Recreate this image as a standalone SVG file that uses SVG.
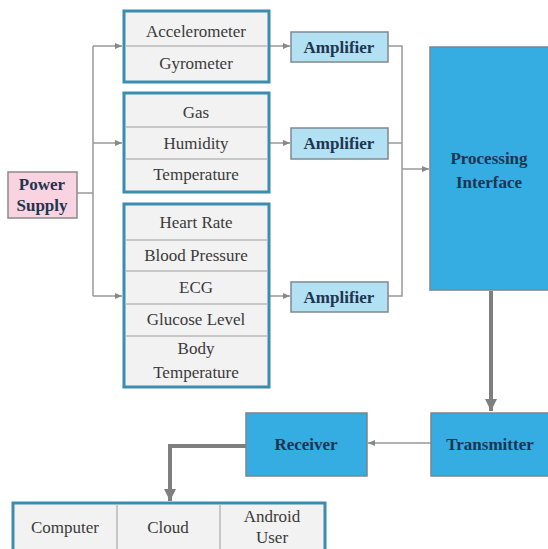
<svg xmlns="http://www.w3.org/2000/svg" width="548" height="549" viewBox="0 0 548 549">
<style>
text{font-size:17px;fill:#3a3a3a;text-anchor:middle}
.b{font-weight:bold;fill:#1e3550}
.grp{fill:#f2f2f2;stroke:#3b8db0;stroke-width:3}
.div{stroke:#b8b8b8;stroke-width:1.5}
.amp{fill:#b3e1f4;stroke:#808890;stroke-width:1.5}
.blue{fill:#35ace2;stroke:#7a8590;stroke-width:1.5}
.ln{fill:none;stroke:#999;stroke-width:1.5}
.thk{fill:none;stroke:#7f7f7f;stroke-width:4}
</style>
<defs>
<marker id="a" markerWidth="8" markerHeight="8" refX="7" refY="4" orient="auto" markerUnits="userSpaceOnUse"><path d="M0,1 L7,4 L0,7 Z" fill="#888"/></marker>
<marker id="A" markerWidth="14" markerHeight="12" refX="12" refY="6" orient="auto" markerUnits="userSpaceOnUse"><path d="M0,0 L12,6 L0,12 Z" fill="#7f7f7f"/></marker>
</defs>
<rect width="548" height="549" fill="#fff"/>
<g id="connectors">
<path class="ln" d="M77,193 H93"/>
<path class="ln" d="M93,46 V296"/>
<path class="ln" d="M93,46 H122" marker-end="url(#a)"/>
<path class="ln" d="M93,143 H122" marker-end="url(#a)"/>
<path class="ln" d="M93,296 H122" marker-end="url(#a)"/>
<path class="ln" d="M270,46 H290" marker-end="url(#a)"/>
<path class="ln" d="M270,143 H290" marker-end="url(#a)"/>
<path class="ln" d="M270,296 H290" marker-end="url(#a)"/>
<path class="ln" d="M388,46 H402 V296 H388"/>
<path class="ln" d="M388,143 H402"/>
<path class="ln" d="M402,169 H429" marker-end="url(#a)"/>
<path class="thk" d="M491,291 V411" marker-end="url(#A)"/>
<path class="ln" d="M431,443 H368" marker-end="url(#a)"/>
<path class="thk" d="M246,446 H170 V501" marker-end="url(#A)"/>
</g>
<g font-family="Liberation Serif, Times New Roman, serif">
<g id="power">
<rect x="8" y="172" width="69" height="46" fill="#f9d4e0" stroke="#8a8a8a" stroke-width="1.5"/>
<text class="b" x="42" y="190">Power</text>
<text class="b" x="42" y="211">Supply</text>
</g>
<g id="group1">
<rect class="grp" x="124" y="11" width="145" height="71"/>
<line class="div" x1="125" y1="46" x2="268" y2="46"/>
<text x="196" y="37">Accelerometer</text>
<text x="196" y="69">Gyrometer</text>
</g>
<g id="group2">
<rect class="grp" x="124" y="93" width="145" height="99"/>
<line class="div" x1="125" y1="127" x2="268" y2="127"/>
<line class="div" x1="125" y1="159" x2="268" y2="159"/>
<text x="196" y="118">Gas</text>
<text x="196" y="149">Humidity</text>
<text x="196" y="180">Temperature</text>
</g>
<g id="group3">
<rect class="grp" x="124" y="204" width="145" height="183"/>
<line class="div" x1="125" y1="240" x2="268" y2="240"/>
<line class="div" x1="125" y1="271" x2="268" y2="271"/>
<line class="div" x1="125" y1="304" x2="268" y2="304"/>
<line class="div" x1="125" y1="336" x2="268" y2="336"/>
<text x="196" y="228">Heart Rate</text>
<text x="196" y="261">Blood Pressure</text>
<text x="196" y="293">ECG</text>
<text x="196" y="325">Glucose Level</text>
<text x="196" y="354">Body</text>
<text x="196" y="378">Temperature</text>
</g>
<g id="amp1">
<rect class="amp" x="291" y="32" width="97" height="30"/>
<text class="b" x="339" y="53">Amplifier</text>
</g>
<g id="amp2">
<rect class="amp" x="291" y="128" width="97" height="31"/>
<text class="b" x="339" y="149">Amplifier</text>
</g>
<g id="amp3">
<rect class="amp" x="291" y="282" width="97" height="30"/>
<text class="b" x="339" y="303">Amplifier</text>
</g>
<g id="processing">
<rect class="blue" x="430" y="47" width="122" height="243"/>
<text class="b" x="489" y="164">Processing</text>
<text class="b" x="489" y="188">Interface</text>
</g>
<g id="transmitter">
<rect class="blue" x="431" y="413" width="121" height="63"/>
<text class="b" x="490" y="450">Transmitter</text>
</g>
<g id="receiver">
<rect class="blue" x="246" y="413" width="121" height="63"/>
<text class="b" x="306" y="450">Receiver</text>
</g>
<g id="outputs">
<rect class="grp" x="13" y="503" width="312" height="50"/>
<line class="div" x1="117" y1="504" x2="117" y2="549"/>
<line class="div" x1="220" y1="504" x2="220" y2="549"/>
<text x="65" y="533">Computer</text>
<text x="168" y="533">Cloud</text>
<text x="272" y="522">Android</text>
<text x="272" y="543">User</text>
</g>
</g>
</svg>
